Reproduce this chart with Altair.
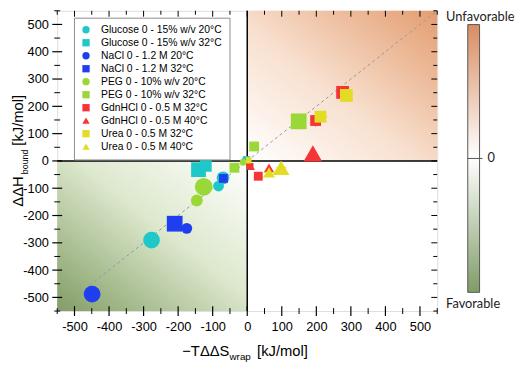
import altair as alt
import pandas as pd

series = ["Glucose 0 - 15% w/v 20°C", "Glucose 0 - 15% w/v 32°C", "NaCl 0 - 1.2 M 20°C",
          "NaCl 0 - 1.2 M 32°C", "PEG 0 - 10% w/v 20°C", "PEG 0 - 10% w/v 32°C",
          "GdnHCl 0 - 0.5 M 32°C", "GdnHCl 0 - 0.5 M 40°C", "Urea 0 - 0.5 M  32°C",
          "Urea 0 - 0.5 M 40°C"]
colors = ["#1ec8c8", "#1ec8c8", "#1e3ef0", "#1e3ef0", "#9ad838", "#9ad838",
          "#f53535", "#f53535", "#e2dc25", "#e2dc25"]
shapes = ["circle", "square", "circle", "square", "circle", "square",
          "square", "triangle-up", "square", "triangle-up"]

# per-series points: x (-TddS), y (ddH), marker diameter
glucose20_x = [-277, -83, -70, -4]
glucose20_y = [-290, -92, -62, 3]
glucose20_d = [17, 11, 13, 8]
glucose32_x = [-141, -120, -2]
glucose32_y = [-32, -18, 5]
glucose32_d = [15, 12, 7]
nacl20_x = [-449, -175, -126, 1]
nacl20_y = [-488, -247, -95, -1]
nacl20_d = [17, 11, 4, 6]
nacl32_x = [-210, -69, 3]
nacl32_y = [-230, -64, -3]
nacl32_d = [16, 9, 5]
peg20_x = [-146, -126, -12]
peg20_y = [-145, -95, -5]
peg20_d = [12, 18, 7]
peg32_x = [-37, 20, 149]
peg32_y = [-25, 53, 145]
peg32_d = [10, 10, 16]
gdn32_x = [8, 32, 198, 276]
gdn32_y = [-20, -56, 148, 251]
gdn32_d = [7, 9, 11, 13]
gdn40_x = [11, 63, 190]
gdn40_y = [-21, -25, 28]
gdn40_d = [8, 10, 19]
urea32_x = [4, 212, 287]
urea32_y = [3, 162, 240]
urea32_d = [6, 12, 13]
urea40_x = [3, 63, 98]
urea40_y = [0, -42, -25]
urea40_d = [6, 12, 17]

# error bars (x, y, half-width x, half-width y, series index)
err_x = [-126, 198, 212, 276, 190, 63, 98, 32, 287]
err_y = [-95, 148, 162, 251, 28, -42, -25, -56, 240]
err_ex = [15, 12, 20, 12, 10, 15, 15, 10, 10]
err_ey = [15, 22, 12, 12, 12, 12, 15, 10, 10]
err_s = [2, 6, 8, 6, 7, 9, 9, 6, 8]

major_ticks = [-500, -400, -300, -200, -100, 0, 100, 200, 300, 400, 500]
minor_ticks = [-550, -450, -350, -250, -150, -50, 50, 150, 250, 350, 450, 550]

quad_x0 = [0, -550]
quad_x1 = [550, 0]
quad_y0 = [0, -550]
quad_y1 = [550, 0]
diag = [-550, 550]

W, H = 386, 305
FONT = "Liberation Sans"

xs = [glucose20_x, glucose32_x, nacl20_x, nacl32_x, peg20_x, peg32_x, gdn32_x, gdn40_x, urea32_x, urea40_x]
ys = [glucose20_y, glucose32_y, nacl20_y, nacl32_y, peg20_y, peg32_y, gdn32_y, gdn40_y, urea32_y, urea40_y]
ds = [glucose20_d, glucose32_d, nacl20_d, nacl32_d, peg20_d, peg32_d, gdn32_d, gdn40_d, urea32_d, urea40_d]
rows = []
for i, name in enumerate(series):
    for x, y, d in zip(xs[i], ys[i], ds[i]):
        rows.append({"x": x, "y": y, "sz": d * d, "series": name, "order": i})
pts = pd.DataFrame(rows)

err = pd.DataFrame({"x": err_x, "y": err_y,
                    "xlo": [a - b for a, b in zip(err_x, err_ex)],
                    "xhi": [a + b for a, b in zip(err_x, err_ex)],
                    "ylo": [a - b for a, b in zip(err_y, err_ey)],
                    "yhi": [a + b for a, b in zip(err_y, err_ey)],
                    "series": [series[i] for i in err_s]})

xsc = alt.Scale(domain=[-550, 550], nice=False, zero=False)
ysc = alt.Scale(domain=[-550, 550], nice=False, zero=False)
xax = alt.Axis(title=None, values=major_ticks, ticks=False, tickSize=0, domain=False, grid=False,
               labelFontSize=13, labelFont=FONT, labelColor="black", labelPadding=10,
               labelExpr="'' + datum.value")
yax = alt.Axis(title=None, values=major_ticks, ticks=False, tickSize=0, domain=False, grid=False,
               labelFontSize=13, labelFont=FONT, labelColor="black", labelPadding=9,
               labelExpr="'' + datum.value")
cscale = alt.Scale(domain=series, range=colors)
sscale = alt.Scale(domain=series, range=shapes)
leg = alt.Legend(title=None, orient="none", legendX=17, legendY=7, labelFont=FONT, labelFontSize=10.5,
                 labelColor="black", symbolSize=55, rowPadding=2.2, padding=7, labelOffset=10,
                 strokeColor="#8c8c8c", fillColor="white", symbolStrokeWidth=0, labelLimit=200)

quads = pd.DataFrame({"x": quad_x0, "x2": quad_x1, "y": quad_y0, "y2": quad_y1})
orange_grad = alt.LinearGradient(gradient="linear", x1=0, y1=1, x2=1, y2=0,
                                 stops=[alt.GradientStop(color="#ffffff", offset=0),
                                        alt.GradientStop(color="#f8e0cf", offset=0.45),
                                        alt.GradientStop(color="#e39d70", offset=1)])
green_grad = alt.LinearGradient(gradient="linear", x1=1, y1=0, x2=0, y2=1,
                                stops=[alt.GradientStop(color="#ffffff", offset=0),
                                       alt.GradientStop(color="#dde8cd", offset=0.45),
                                       alt.GradientStop(color="#819d64", offset=1)])

q_ur = alt.Chart(quads.iloc[[0]]).mark_rect(color=orange_grad).encode(
    x=alt.X("x:Q", scale=xsc, axis=xax), x2="x2:Q",
    y=alt.Y("y:Q", scale=ysc, axis=yax), y2="y2:Q")
q_ll = alt.Chart(quads.iloc[[1]]).mark_rect(color=green_grad).encode(
    x=alt.X("x:Q", scale=xsc, axis=xax), x2="x2:Q",
    y=alt.Y("y:Q", scale=ysc, axis=yax), y2="y2:Q")

diag_df = pd.DataFrame({"x": diag, "y": diag})
diag_line = alt.Chart(diag_df).mark_line(color="#8a9aa6", strokeDash=[3, 3], strokeWidth=1).encode(
    x=alt.X("x:Q", scale=xsc, axis=xax), y=alt.Y("y:Q", scale=ysc, axis=yax))

zero_df = pd.DataFrame({"x": [0], "y": [0]})
vline = alt.Chart(zero_df).mark_rule(color="black", strokeWidth=1.5).encode(
    x=alt.X("x:Q", scale=xsc, axis=xax), y=alt.value(0), y2=alt.value(H))
hline = alt.Chart(zero_df).mark_rule(color="black", strokeWidth=1.5).encode(
    y=alt.Y("y:Q", scale=ysc, axis=yax), x=alt.value(0), x2=alt.value(W))

maj = pd.DataFrame({"x": major_ticks, "y": major_ticks})
mnr = pd.DataFrame({"x": minor_ticks, "y": minor_ticks})
tick_layers = [
    alt.Chart(maj).mark_rule(color="black", strokeWidth=1.2).encode(
        x=alt.X("x:Q", scale=xsc, axis=xax), y=alt.value(H - 5), y2=alt.value(H + 5)),
    alt.Chart(mnr).mark_rule(color="black", strokeWidth=1).encode(
        x=alt.X("x:Q", scale=xsc, axis=xax), y=alt.value(H - 3), y2=alt.value(H + 3)),
    alt.Chart(maj).mark_rule(color="black", strokeWidth=1.2).encode(
        y=alt.Y("y:Q", scale=ysc, axis=yax), x=alt.value(-5), x2=alt.value(5)),
    alt.Chart(mnr).mark_rule(color="black", strokeWidth=1).encode(
        y=alt.Y("y:Q", scale=ysc, axis=yax), x=alt.value(-3), x2=alt.value(3)),
    alt.Chart(maj).mark_rule(color="black", strokeWidth=1).encode(
        x=alt.X("x:Q", scale=xsc, axis=xax), y=alt.value(0), y2=alt.value(6)),
    alt.Chart(mnr).mark_rule(color="black", strokeWidth=1).encode(
        x=alt.X("x:Q", scale=xsc, axis=xax), y=alt.value(0), y2=alt.value(4)),
    alt.Chart(maj).mark_rule(color="black", strokeWidth=1).encode(
        y=alt.Y("y:Q", scale=ysc, axis=yax), x=alt.value(W - 6), x2=alt.value(W)),
    alt.Chart(mnr).mark_rule(color="black", strokeWidth=1).encode(
        y=alt.Y("y:Q", scale=ysc, axis=yax), x=alt.value(W - 4), x2=alt.value(W)),
]

errx = alt.Chart(err).mark_rule(strokeWidth=1).encode(
    x=alt.X("xlo:Q", scale=xsc, axis=xax), x2="xhi:Q",
    y=alt.Y("y:Q", scale=ysc, axis=yax),
    color=alt.Color("series:N", scale=cscale, sort=series, legend=leg))
erry = alt.Chart(err).mark_rule(strokeWidth=1).encode(
    y=alt.Y("ylo:Q", scale=ysc, axis=yax), y2="yhi:Q",
    x=alt.X("x:Q", scale=xsc, axis=xax),
    color=alt.Color("series:N", scale=cscale, sort=series, legend=leg))

points = alt.Chart(pts).mark_point(filled=True, opacity=1).encode(
    x=alt.X("x:Q", scale=xsc, axis=xax),
    y=alt.Y("y:Q", scale=ysc, axis=yax),
    color=alt.Color("series:N", scale=cscale, sort=series, legend=leg),
    shape=alt.Shape("series:N", scale=sscale, sort=series, legend=leg),
    size=alt.Size("sz:Q", scale=None),
    order=alt.Order("order:Q"))

one = alt.Chart(pd.DataFrame({"a": [0]}))
cb_top = alt.LinearGradient(gradient="linear", x1=0, y1=0, x2=0, y2=1,
                            stops=[alt.GradientStop(color="#d98c62", offset=0),
                                   alt.GradientStop(color="#ffffff", offset=1)])
cb_bot = alt.LinearGradient(gradient="linear", x1=0, y1=0, x2=0, y2=1,
                            stops=[alt.GradientStop(color="#ffffff", offset=0),
                                   alt.GradientStop(color="#7f9c66", offset=1)])
cbar = [
    one.mark_rect(color=cb_top).encode(x=alt.value(417), x2=alt.value(429), y=alt.value(14), y2=alt.value(150)),
    one.mark_rect(color=cb_bot).encode(x=alt.value(417), x2=alt.value(429), y=alt.value(150), y2=alt.value(286)),
    one.mark_rect(fill=None, stroke="#555555", strokeWidth=1).encode(
        x=alt.value(417), x2=alt.value(429), y=alt.value(14), y2=alt.value(286)),
    one.mark_rule(color="#555555", strokeWidth=1).encode(
        x=alt.value(417), x2=alt.value(432), y=alt.value(150)),
    one.mark_text(text="Unfavorable", font="Lato", fontSize=13, align="left", baseline="middle", color="#222").encode(
        x=alt.value(395), y=alt.value(6)),
    one.mark_text(text="0", font="Lato", fontSize=13, align="left", baseline="middle", color="#222").encode(
        x=alt.value(437), y=alt.value(150)),
    one.mark_text(text="Favorable", font="Lato", fontSize=13, align="left", baseline="middle", color="#222").encode(
        x=alt.value(395), y=alt.value(298)),
]

titles = [
    one.mark_text(text="\u2212T\u0394\u0394S", font=FONT, fontSize=15, align="left", baseline="middle").encode(
        x=alt.value(127), y=alt.value(346)),
    one.mark_text(text="wrap", font=FONT, fontSize=10, align="left", baseline="middle").encode(
        x=alt.value(175), y=alt.value(352)),
    one.mark_text(text="[kJ/mol]", font=FONT, fontSize=15, align="left", baseline="middle").encode(
        x=alt.value(203), y=alt.value(346)),
    one.mark_text(text="\u0394\u0394H", font=FONT, fontSize=15, align="left", baseline="middle", angle=270).encode(
        x=alt.value(-40), y=alt.value(199)),
    one.mark_text(text="bound", font=FONT, fontSize=9, align="left", baseline="middle", angle=270).encode(
        x=alt.value(-33), y=alt.value(166)),
    one.mark_text(text="[kJ/mol]", font=FONT, fontSize=15, align="left", baseline="middle", angle=270).encode(
        x=alt.value(-40), y=alt.value(137)),
]

chart = alt.layer(q_ur, q_ll, diag_line, vline, hline, *tick_layers, errx, erry, points, *cbar, *titles).properties(
    width=W, height=H,
    autosize=alt.AutoSizeParams(type="none"),
    padding={"left": 50, "top": 0, "right": 80, "bottom": 55},
).configure_view(stroke="black", strokeWidth=1.3).configure(background="white")

chart.save("out.html", embed_options={"renderer": "svg", "actions": False})
